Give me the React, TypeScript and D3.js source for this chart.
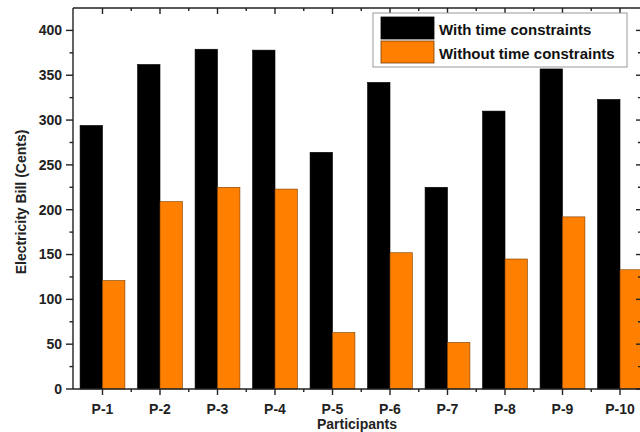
import React from "react";
import * as d3 from "d3";

const participants = ["P-1", "P-2", "P-3", "P-4", "P-5", "P-6", "P-7", "P-8", "P-9", "P-10"];
const withConstraints = [294, 362, 379, 378, 264, 342, 225, 310, 357, 323];
const withoutConstraints = [121, 209, 225, 223, 63, 152, 52, 145, 192, 133];
const seriesNames = ["With time constraints", "Without time constraints"];
const seriesColors = ["#000000", "#ff8000"];
const seriesStroke = ["#000000", "#7a3c00"];
const yTicks = [0, 50, 100, 150, 200, 250, 300, 350, 400];
const yMinorTicks = [25, 75, 125, 175, 225, 275, 325, 375];

const W = 640;
const H = 432;
const left = 73;
const right = 641;
const top = 8;
const bottom = 389;
const font = "'Liberation Sans', Arial, sans-serif";

const App = () => {
  const x = d3
    .scaleBand()
    .domain(participants)
    .range([73.75, 648.75])
    .paddingInner(0.22)
    .paddingOuter(0.11);
  const xSub = d3.scaleBand().domain(["0", "1"]).range([0, x.bandwidth()]);
  const y = d3.scaleLinear().domain([0, 425]).range([bottom, top]);

  const center = p => x(p) + x.bandwidth() / 2;
  const bounds = participants.map(p => center(p) + x.step() / 2);
  const series = [withConstraints, withoutConstraints];

  return (
    <svg width={W} height={H} style={{ position: "absolute", left: 0, top: 0, background: "#fff" }}>
      {/* bars */}
      {participants.map((p, i) => (
        <g key={p} transform={`translate(${x(p)},0)`}>
          {series.map((s, k) => (
            <rect
              key={k}
              x={xSub(String(k))}
              y={y(s[i])}
              width={xSub.bandwidth()}
              height={bottom - y(s[i])}
              fill={seriesColors[k]}
              stroke={seriesStroke[k]}
              strokeWidth={0.6}
            />
          ))}
        </g>
      ))}

      {/* frame */}
      <g stroke="#222" strokeWidth={1.4} fill="none">
        <line x1={left} x2={left} y1={top} y2={bottom} />
        <line x1={right} x2={right} y1={top} y2={bottom} />
        <line x1={left} x2={right} y1={top} y2={top} />
        <line x1={left} x2={right} y1={bottom} y2={bottom} />
        {yTicks.map(t => (
          <g key={t}>
            <line x1={left - 7} x2={left} y1={y(t)} y2={y(t)} />
            <line x1={right - 5} x2={right} y1={y(t)} y2={y(t)} />
          </g>
        ))}
        {yMinorTicks.map(t => (
          <g key={t}>
            <line x1={left - 3.5} x2={left} y1={y(t)} y2={y(t)} />
            <line x1={right - 3} x2={right} y1={y(t)} y2={y(t)} />
          </g>
        ))}
        {participants.map(p => (
          <g key={p}>
            <line x1={center(p)} x2={center(p)} y1={bottom} y2={bottom + 6} />
            <line x1={center(p)} x2={center(p)} y1={top} y2={top + 6} />
          </g>
        ))}
        {bounds.map((b, i) => (
          <g key={i}>
            <line x1={b} x2={b} y1={bottom} y2={bottom + 3} />
            <line x1={b} x2={b} y1={top} y2={top + 3} />
          </g>
        ))}
      </g>

      {/* y tick labels */}
      {yTicks.map(t => (
        <text
          key={t}
          x={left - 11}
          y={y(t)}
          dy="0.35em"
          textAnchor="end"
          fontFamily={font}
          fontWeight="bold"
          fontSize={14}
          fill="#222"
        >
          {t}
        </text>
      ))}

      {/* x tick labels */}
      {participants.map(p => (
        <text
          key={p}
          x={center(p)}
          y={414}
          textAnchor="middle"
          fontFamily={font}
          fontWeight="bold"
          fontSize={14}
          fill="#222"
        >
          {p}
        </text>
      ))}

      <text
        x={(left + right) / 2}
        y={429}
        textAnchor="middle"
        fontFamily={font}
        fontWeight="bold"
        fontSize={14}
        fill="#222"
      >
        Participants
      </text>
      <text
        transform={`translate(26,202) rotate(-90)`}
        textAnchor="middle"
        fontFamily={font}
        fontWeight="bold"
        fontSize={14}
        fill="#222"
      >
        Electricity Bill (Cents)
      </text>

      {/* legend */}
      <rect x={373} y={13} width={254} height={54} fill="#fff" stroke="#999" strokeWidth={1} />
      {seriesNames.map((n, k) => (
        <g key={n}>
          <rect
            x={381}
            y={17 + k * 24}
            width={53}
            height={22}
            fill={seriesColors[k]}
            stroke={seriesStroke[k]}
            strokeWidth={0.8}
          />
          <text x={439} y={35 + k * 24} fontFamily={font} fontWeight="bold" fontSize={15} fill="#111">
            {n}
          </text>
        </g>
      ))}
    </svg>
  );
};

export default App;
